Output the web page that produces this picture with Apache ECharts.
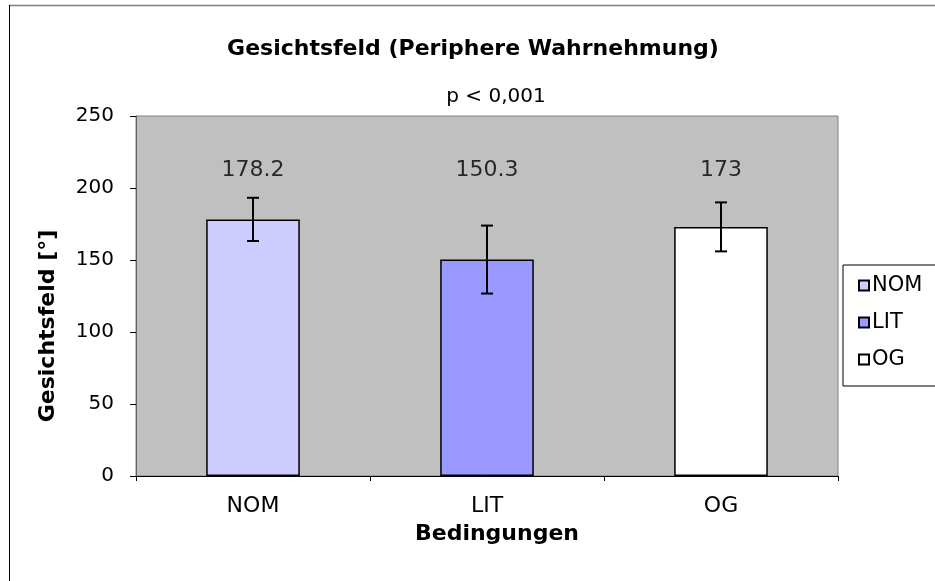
<!DOCTYPE html>
<html>
<head>
<meta charset="UTF-8">
<title>Gesichtsfeld</title>
<script src="https://cdn.jsdelivr.net/npm/echarts@6/dist/echarts.min.js"></script>
</head>
<body style="margin:0;background:#fff;">
<div id="container" style="width:935px;height:581px;"></div>
<script>
var categories = ['NOM', 'LIT', 'OG'];
var means = [178.2, 150.3, 173];
var errors = [15, 23.6, 17];
var labelTexts = ['178.2', '150.3', '173'];
var colors = ['#CCCCFF', '#9999FF', '#FFFFFF'];
var yTicks = { min: 0, max: 250, interval: 50 };
var labelLevel = 212;

var font = 'DejaVu Sans';
var chart = echarts.init(document.getElementById('container'));

var barSeries = categories.map(function (name, i) {
  return {
    name: name,
    type: 'bar',
    barWidth: '40%',
    barGap: '-100%',
    data: categories.map(function (c, j) { return j === i ? means[i] : '-'; }),
    itemStyle: { color: colors[i], borderColor: '#000', borderWidth: 1.5 },
    z: 2
  };
});

var errSeries = {
  type: 'custom',
  data: categories.map(function (c, i) { return [i, means[i] - errors[i], means[i] + errors[i]]; }),
  renderItem: function (params, api) {
    var lo = api.coord([api.value(0), api.value(1)]);
    var hi = api.coord([api.value(0), api.value(2)]);
    var w = 6;
    var st = { stroke: '#000', lineWidth: 2 };
    return {
      type: 'group',
      children: [
        { type: 'line', shape: { x1: lo[0], y1: lo[1], x2: hi[0], y2: hi[1] }, style: st },
        { type: 'line', shape: { x1: lo[0] - w, y1: lo[1], x2: lo[0] + w, y2: lo[1] }, style: st },
        { type: 'line', shape: { x1: hi[0] - w, y1: hi[1], x2: hi[0] + w, y2: hi[1] }, style: st }
      ]
    };
  },
  z: 5
};

var labelSeries = {
  type: 'scatter',
  symbolSize: 1,
  itemStyle: { color: 'rgba(0,0,0,0)' },
  data: categories.map(function (c, i) { return [i, labelLevel]; }),
  label: {
    show: true,
    position: 'inside',
    formatter: function (p) { return labelTexts[p.dataIndex]; },
    color: '#000',
    textBorderWidth: 0,
    fontFamily: font,
    fontSize: 22
  },
  silent: true
};

var option = {
  animation: false,
  backgroundColor: '#fff',
  title: [
    {
      text: 'Gesichtsfeld (Periphere Wahrnehmung)',
      left: 468, top: 33, textAlign: 'center',
      textStyle: { fontFamily: font, fontSize: 22, fontWeight: 'bold', color: '#000' }
    },
    {
      text: 'p < 0,001',
      left: 491, top: 82, textAlign: 'center',
      textStyle: { fontFamily: font, fontSize: 20, fontWeight: 'normal', color: '#000' }
    }
  ],
  legend: {
    orient: 'vertical',
    left: 843, top: 265,
    data: categories,
    icon: 'rect',
    itemWidth: 10, itemHeight: 10,
    itemGap: 16,
    padding: [10, 60, 16, 15],
    borderColor: '#000', borderWidth: 1,
    backgroundColor: '#fff',
    textStyle: { fontFamily: font, fontSize: 21, color: '#000', padding: [0, 0, 0, -2] }
  },
  grid: {
    left: 136, right: 97, top: 116, bottom: 105,
    show: true, backgroundColor: '#C0C0C0', borderColor: '#808080', borderWidth: 1
  },
  xAxis: {
    type: 'category',
    data: categories,
    axisLine: { lineStyle: { color: '#000', width: 1 } },
    axisTick: { show: true, length: 5, lineStyle: { color: '#000' } },
    axisLabel: { margin: 19, fontFamily: font, fontSize: 22, color: '#000' }
  },
  yAxis: {
    type: 'value',
    min: yTicks.min, max: yTicks.max, interval: yTicks.interval,
    splitLine: { show: false },
    axisLine: { show: true, lineStyle: { color: '#606060', width: 1 } },
    axisTick: { show: true, length: 6, lineStyle: { color: '#000' } },
    axisLabel: { margin: 22, fontFamily: font, fontSize: 20, color: '#000' }
  },
  graphic: [
    { type: 'line', shape: { x1: 9, y1: 5.5, x2: 935, y2: 5.5 }, style: { stroke: '#808080', lineWidth: 1.5 } },
    { type: 'line', shape: { x1: 9.5, y1: 5, x2: 9.5, y2: 581 }, style: { stroke: '#000', lineWidth: 1 } },
    {
      type: 'text', x: 48, y: 326, rotation: Math.PI / 2,
      style: { text: 'Gesichtsfeld [°]', fontFamily: font, fontSize: 22, fontWeight: 'bold', fill: '#000', align: 'center', verticalAlign: 'middle' }
    },
    {
      type: 'text', x: 497, y: 534,
      style: { text: 'Bedingungen', fontFamily: font, fontSize: 22, fontWeight: 'bold', fill: '#000', align: 'center', verticalAlign: 'middle' }
    }
  ],
  series: barSeries.concat([errSeries, labelSeries])
};

chart.setOption(option);
</script>
</body>
</html>
